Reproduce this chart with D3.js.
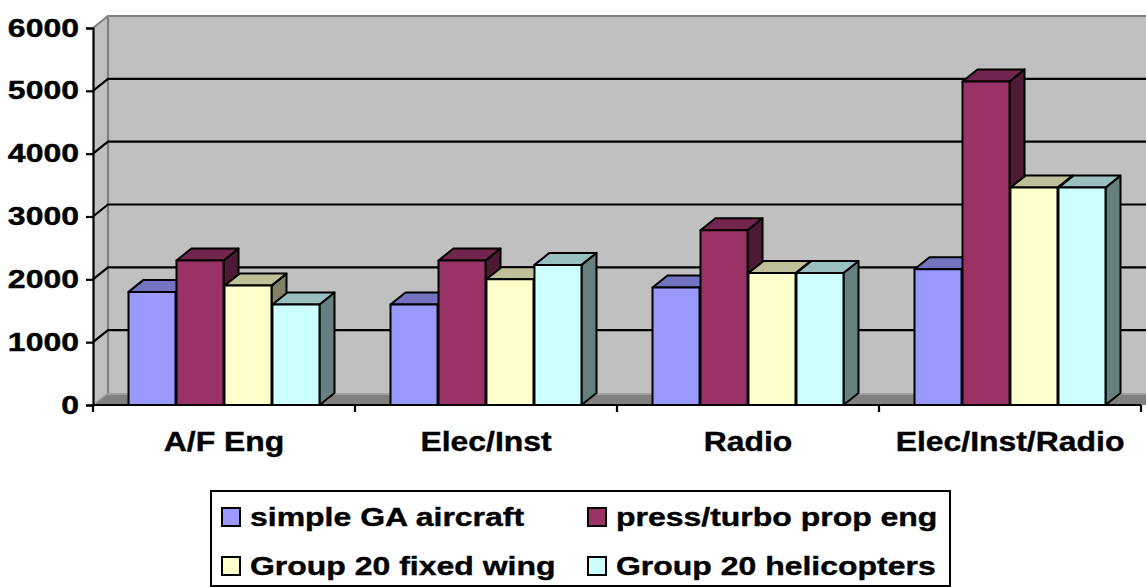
<!DOCTYPE html>
<html>
<head>
<meta charset="utf-8">
<script src="https://cdn.jsdelivr.net/npm/d3@7/dist/d3.min.js"></script>
<style>
  html, body { margin: 0; padding: 0; background: #ffffff; }
  svg { display: block; font-family: "Liberation Sans", Arial, sans-serif; font-weight: bold; }
</style>
</head>
<body>
<svg id="chart" width="1146" height="587"></svg>
<script>
// Categories and series values
const categories = ["A/F Eng", "Elec/Inst", "Radio", "Elec/Inst/Radio"];
const seriesNames = ["simple GA aircraft", "press/turbo prop eng", "Group 20 fixed wing", "Group 20 helicopters"];
const simpleGA = [1800, 1600, 1870, 2160];
const pressTurbo = [2300, 2300, 2780, 5150];
const group20Fixed = [1900, 2000, 2100, 3460];
const group20Heli = [1600, 2230, 2100, 3460];
const yTicks = [0, 1000, 2000, 3000, 4000, 5000, 6000];
const seriesColors = ["#9999FF", "#993366", "#FFFFCC", "#CCFFFF"];

const seriesValues = [simpleGA, pressTurbo, group20Fixed, group20Heli];

const svg = d3.select("#chart");

// Text is set in a wide bold face: glyphs stretched horizontally
const valueFont = { size: 25, stretch: 1.28 };
const categoryFont = { size: 28, stretch: 1.14 };
const legendFont = { size: 26, stretch: 1.23 };

// Plot frame (front plane) and 3-D depth offset
const plotLeft = 93, plotRight = 1141, plotBottom = 405, plotTop = 28;
const depthX = 15, depthY = -12;

const y = d3.scaleLinear().domain([0, 6000]).range([plotBottom, plotTop]);
const x0 = d3.scaleBand().domain(categories).range([plotLeft, plotRight]).paddingInner(0).paddingOuter(0);
const x1 = d3.scaleBand().domain(d3.range(seriesNames.length))
  .range([0, x0.bandwidth()]).paddingInner(0.02).paddingOuter(0.74);

const shade = (c, k) => {
  const rgb = d3.rgb(c);
  return d3.rgb(rgb.r * k, rgb.g * k, rgb.b * k).formatHex();
};

const pts = a => a.map(p => p.join(",")).join(" ");

// Walls
const wall = svg.append("g");
// back wall
wall.append("rect")
  .attr("x", plotLeft + depthX).attr("y", plotTop + depthY)
  .attr("width", 1146 - (plotLeft + depthX) + 20).attr("height", plotBottom - plotTop)
  .attr("fill", "#C0C0C0");
// side wall
wall.append("polygon")
  .attr("points", pts([[plotLeft, plotTop], [plotLeft + depthX, plotTop + depthY], [plotLeft + depthX, plotBottom + depthY], [plotLeft, plotBottom]]))
  .attr("fill", "#C0C0C0");
// floor
wall.append("polygon")
  .attr("points", pts([[plotLeft, plotBottom], [plotLeft + depthX, plotBottom + depthY], [1146 + 20, plotBottom + depthY], [plotRight + 20, plotBottom]]))
  .attr("fill", "#808080");
wall.append("line")
  .attr("x1", plotLeft + depthX).attr("x2", 1146)
  .attr("y1", plotBottom + depthY + 1).attr("y2", plotBottom + depthY + 1)
  .attr("stroke", "#A0A0A0").attr("stroke-width", 2);

// Gridlines on back and side walls
const grid = svg.append("g");
yTicks.filter(t => t > 0 && t < 6000).forEach(t => {
  const yy = y(t);
  grid.append("polyline")
    .attr("points", pts([[plotLeft, yy], [plotLeft + depthX, yy + depthY], [1146, yy + depthY]]))
    .attr("fill", "none").attr("stroke", "#000").attr("stroke-width", 2.2);
});

// Wall edges
wall.append("polyline")
  .attr("points", pts([[plotLeft, plotTop], [plotLeft + depthX, plotTop + depthY], [1146, plotTop + depthY]]))
  .attr("fill", "none").attr("stroke", "#808080").attr("stroke-width", 2.2);
wall.append("line")
  .attr("x1", plotLeft + depthX).attr("x2", plotLeft + depthX)
  .attr("y1", plotTop + depthY).attr("y2", plotBottom + depthY)
  .attr("stroke", "#808080").attr("stroke-width", 2.2);
wall.append("line")
  .attr("x1", plotLeft).attr("x2", plotLeft + depthX)
  .attr("y1", plotBottom).attr("y2", plotBottom + depthY)
  .attr("stroke", "#A0A0A0").attr("stroke-width", 1.5);

// Value axis
const yAxis = d3.axisLeft(y).tickValues(yTicks).tickSize(7).tickPadding(7).tickFormat(d3.format("d"));
const gy = svg.append("g").attr("transform", `translate(${plotLeft},0)`).call(yAxis);
gy.select(".domain").attr("stroke", "#000").attr("stroke-width", 2.2);
gy.selectAll(".tick line").attr("stroke", "#000").attr("stroke-width", 2.2);
gy.selectAll(".tick text")
  .attr("font-family", "'Liberation Sans', Arial, sans-serif")
  .attr("font-weight", "bold").attr("font-size", valueFont.size).attr("fill", "#000")
  .attr("stroke", "#000").attr("stroke-width", 0.4)
  .attr("x", -14 / valueFont.stretch)
  .attr("transform", `scale(${valueFont.stretch},1)`);

// Category axis labels
const xAxis = d3.axisBottom(x0).tickSize(0).tickPadding(26);
const gx = svg.append("g").attr("transform", `translate(0,${plotBottom})`).call(xAxis);
gx.select(".domain").remove();
gx.selectAll(".tick line").remove();
gx.selectAll(".tick text")
  .attr("font-family", "'Liberation Sans', Arial, sans-serif")
  .attr("font-weight", "bold").attr("font-size", categoryFont.size).attr("fill", "#000")
  .attr("stroke", "#000").attr("stroke-width", 0.4)
  .attr("transform", `scale(${categoryFont.stretch},1)`);

// Bars (drawn left to right so nearer faces cover hidden sides)
const bars = svg.append("g");
categories.forEach((cat, ci) => {
  seriesValues.forEach((vals, si) => {
    const v = vals[ci];
    const bx = x0(cat) + x1(si);
    const bw = x1.bandwidth();
    const by = y(v);
    const col = seriesColors[si];
    const g = bars.append("g").attr("stroke", "#000").attr("stroke-width", 2).attr("stroke-linejoin", "round");
    // side face
    g.append("polygon")
      .attr("points", pts([[bx + bw, by], [bx + bw + depthX, by + depthY], [bx + bw + depthX, plotBottom + depthY], [bx + bw, plotBottom]]))
      .attr("fill", shade(col, 0.5));
    // top face
    g.append("polygon")
      .attr("points", pts([[bx, by], [bx + depthX, by + depthY], [bx + bw + depthX, by + depthY], [bx + bw, by]]))
      .attr("fill", shade(col, 0.75));
    // front face
    g.append("rect")
      .attr("x", bx).attr("y", by).attr("width", bw).attr("height", plotBottom - by)
      .attr("fill", col);
  });
});

// Category axis line with tick marks
const xLine = svg.append("g");
xLine.append("line")
  .attr("x1", plotLeft).attr("x2", plotRight).attr("y1", plotBottom).attr("y2", plotBottom)
  .attr("stroke", "#000").attr("stroke-width", 2.2);
[plotLeft, ...categories.map(c => x0(c) + x0.bandwidth())].forEach(tx => {
  xLine.append("line")
    .attr("x1", tx).attr("x2", tx).attr("y1", plotBottom).attr("y2", plotBottom + 7)
    .attr("stroke", "#000").attr("stroke-width", 2.2);
});

// Legend
const legend = svg.append("g");
legend.append("rect")
  .attr("x", 211).attr("y", 491).attr("width", 739).attr("height", 95)
  .attr("fill", "#fff").attr("stroke", "#000").attr("stroke-width", 2);
const colX = [222, 588];
const rowY = [508, 557];
seriesNames.forEach((name, i) => {
  const cx = colX[i % 2], cy = rowY[Math.floor(i / 2)];
  legend.append("rect")
    .attr("x", cx).attr("y", cy).attr("width", 18).attr("height", 18)
    .attr("fill", seriesColors[i]).attr("stroke", "#000").attr("stroke-width", 2);
  legend.append("text")
    .attr("transform", `translate(${cx + 28},${cy + 18}) scale(${legendFont.stretch},1)`)
    .attr("font-size", legendFont.size).attr("fill", "#000")
    .attr("stroke", "#000").attr("stroke-width", 0.4)
    .text(name);
});
</script>
</body>
</html>
